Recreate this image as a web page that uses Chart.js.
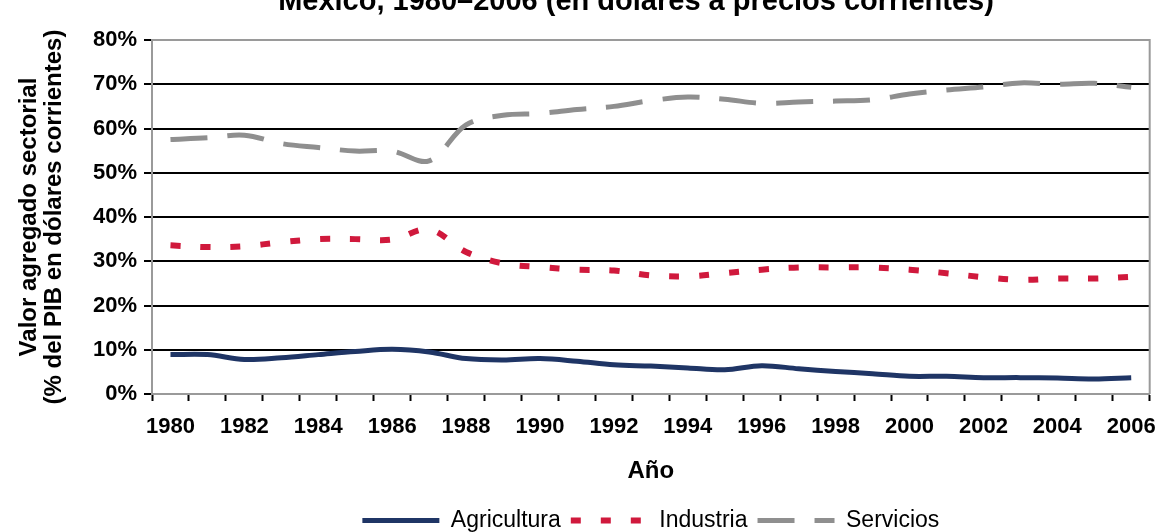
<!DOCTYPE html>
<html>
<head>
<meta charset="utf-8">
<script src="https://cdn.jsdelivr.net/npm/chart.js@4.4.0/dist/chart.umd.min.js"></script>
<style>
  html, body { margin: 0; padding: 0; background: #fff; }
  #wrap { width: 1169px; height: 532px; }
</style>
</head>
<body>
<div id="wrap"><canvas id="chart" width="1169" height="532"></canvas></div>
<script>
// Datos (% del PIB, dólares corrientes)
const years = [
  "1980", "1981", "1982", "1983", "1984", "1985", "1986", "1987", "1988",
  "1989", "1990", "1991", "1992", "1993", "1994", "1995", "1996", "1997",
  "1998", "1999", "2000", "2001", "2002", "2003", "2004", "2005", "2006",
];
const agricultura = [
  8.9, 8.9, 7.8, 8.2, 8.9, 9.6, 10.1, 9.5, 8.0, 7.7, 8.0, 7.4, 6.6, 6.3,
  5.9, 5.5, 6.4, 5.7, 5.1, 4.6, 4.0, 4.0, 3.7, 3.7, 3.6, 3.4, 3.7,
];
const industria = [
  33.6, 33.2, 33.4, 34.3, 35.0, 35.0, 34.9, 37.2, 32.1, 29.5, 28.7, 28.1,
  27.9, 26.8, 26.6, 27.3, 28.1, 28.6, 28.6, 28.6, 28.1, 27.3, 26.4, 25.8,
  26.1, 26.1, 26.5,
];
const servicios = [
  57.5, 57.9, 58.5, 56.6, 55.7, 54.9, 54.9, 52.7, 60.8, 63.0, 63.4, 64.3,
  65.0, 66.3, 67.1, 66.6, 65.7, 66.0, 66.2, 66.5, 67.8, 68.7, 69.4, 70.3,
  70.0, 70.2, 69.3,
];
const yTicks = { min: 0, max: 80, step: 10 };

const FONT = '"Liberation Sans", Arial, sans-serif';
const GRID_GRAY = "#9a9a9a";

// título superior (cortado en el original)
const topTitle = {
  id: "topTitle",
  afterDraw(chart) {
    const ctx = chart.ctx;
    ctx.save();
    ctx.font = "bold 29px " + FONT;
    ctx.fillStyle = "#000";
    ctx.textAlign = "center";
    ctx.textBaseline = "alphabetic";
    ctx.fillText("México, 1980–2006 (en dólares a precios corrientes)", 636, 10);
    ctx.restore();
  },
};

// borde del área de trazado (arriba y derecha)
const plotBorder = {
  id: "plotBorder",
  beforeDatasetsDraw(chart) {
    const { ctx, chartArea: a } = chart;
    ctx.save();
    ctx.strokeStyle = GRID_GRAY;
    ctx.lineWidth = 2;
    ctx.beginPath();
    ctx.moveTo(a.left, a.top);
    ctx.lineTo(a.right, a.top);
    ctx.lineTo(a.right, a.bottom);
    ctx.stroke();
    ctx.restore();
  },
};

new Chart(document.getElementById("chart"), {
  type: "line",
  data: {
    labels: years,
    datasets: [
      {
        label: "Agricultura",
        data: agricultura,
        borderColor: "#1f3565",
        backgroundColor: "#1f3565",
        borderWidth: 5,
        tension: 0.35,
        pointRadius: 0,
      },
      {
        label: "Industria",
        data: industria,
        borderColor: "#d0193c",
        backgroundColor: "#d0193c",
        borderWidth: 6,
        borderDash: [10, 20],
        borderCapStyle: "butt",
        tension: 0.35,
        pointRadius: 0,
      },
      {
        label: "Servicios",
        data: servicios,
        borderColor: "#8f8f8f",
        backgroundColor: "#8f8f8f",
        borderWidth: 5,
        borderDash: [37, 20],
        borderCapStyle: "butt",
        tension: 0.35,
        pointRadius: 0,
      },
    ],
  },
  options: {
    responsive: false,
    animation: false,
    events: [],
    layout: { padding: { left: 8, right: 17, top: 40, bottom: -10 } },
    plugins: {
      title: { display: false },
      tooltip: { enabled: false },
      legend: {
        position: "bottom",
        fullSize: false,
        labels: {
          usePointStyle: true,
          pointStyle: "line",
          pointStyleWidth: 77,
          padding: 10,
          color: "#000",
          font: { family: FONT, size: 23 },
          // con usePointStyle se pierde el borderDash, se rehace aquí
          generateLabels: (chart) =>
            chart.data.datasets.map((ds, i) => ({
              text: ds.label,
              fillStyle: ds.borderColor,
              strokeStyle: ds.borderColor,
              lineWidth: ds.borderWidth,
              lineDash: ds.borderDash || [],
              lineCap: "butt",
              pointStyle: "line",
              fontColor: "#000",
              hidden: false,
              datasetIndex: i,
            })),
        },
      },
    },
    scales: {
      x: {
        offset: true,
        grid: {
          offset: true,
          drawOnChartArea: false,
          tickLength: 7,
          tickColor: "#000",
          tickWidth: 2,
        },
        border: { color: GRID_GRAY, width: 2 },
        ticks: {
          autoSkip: false,
          maxRotation: 0,
          padding: 13,
          color: "#000",
          font: { family: FONT, size: 22, weight: "bold" },
          callback: (v, i) => (i % 2 === 0 ? years[i] : ""),
        },
        title: {
          display: true,
          text: "Año",
          color: "#000",
          font: { family: FONT, size: 24, weight: "bold" },
          padding: { top: 4, bottom: 13 },
        },
        afterFit(scale) {
          scale.height = 105;
        },
      },
      y: {
        min: yTicks.min,
        max: yTicks.max,
        grid: {
          color: (c) =>
            c.tick && (c.tick.value === yTicks.min || c.tick.value === yTicks.max)
              ? GRID_GRAY
              : "#000",
          lineWidth: 2,
          tickLength: 8,
          tickColor: "#000",
          tickWidth: 2,
        },
        border: { color: GRID_GRAY, width: 2 },
        ticks: {
          stepSize: yTicks.step,
          padding: 7,
          color: "#000",
          font: { family: FONT, size: 22, weight: "bold" },
          callback: (v) => v + "%",
        },
        title: {
          display: true,
          text: ["Valor agregado sectorial", "(% del PIB en dólares corrientes)"],
          color: "#000",
          font: { family: FONT, size: 24, weight: "bold", lineHeight: 1.05 },
          padding: { top: 9, bottom: 0 },
        },
        afterFit(scale) {
          scale.width = 144;
        },
      },
    },
  },
  plugins: [topTitle, plotBorder],
});
</script>
</body>
</html>
